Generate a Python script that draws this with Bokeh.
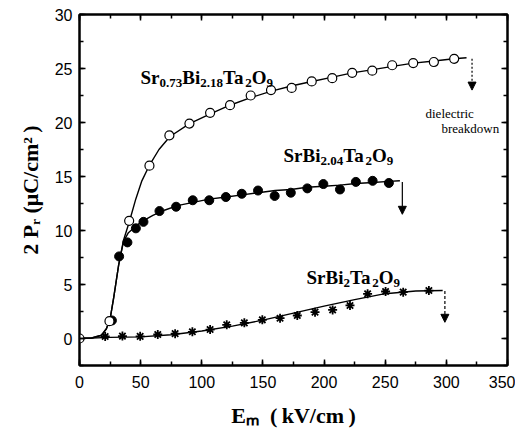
import math
from bokeh.plotting import figure
from bokeh.models import (Range1d, SingleIntervalTicker, LinearAxis, Label,
                          Arrow, NormalHead, CustomJSTickFormatter)
from bokeh.embed import file_html
from bokeh.resources import INLINE

# ---------------- data ----------------
# Sr0.73Bi2.18Ta2O9 : open circles
sr073_E = [0, 24.5, 40.6, 57.2, 73.5, 89.9, 106.8, 123.1, 140.0, 156.6, 173.5,
           189.9, 206.7, 223.0, 239.4, 255.7, 272.9, 289.8, 306.4]
sr073_P = [0, 1.6, 10.9, 16.0, 18.8, 19.9, 20.9, 21.6, 22.5, 23.0, 23.2,
           23.8, 24.1, 24.6, 24.8, 25.3, 25.5, 25.6, 25.9]
# fitted curve for Sr0.73Bi2.18Ta2O9
sr073_fit_E = [0, 10, 18, 22, 25, 28, 32, 36, 41, 46, 51, 57, 65, 74, 90, 107,
               123, 140, 157, 174, 190, 207, 223, 240, 256, 273, 290, 306, 316.5]
sr073_fit_P = [0, 0.05, 0.3, 0.9, 1.8, 3.8, 6.8, 9.1, 10.9, 12.9, 14.6, 16.0,
               17.5, 18.7, 19.9, 20.8, 21.6, 22.3, 22.9, 23.4, 23.8, 24.2, 24.6,
               24.9, 25.2, 25.5, 25.7, 25.9, 26.0]

# SrBi2.04Ta2O9 : filled circles
sr204_E = [26.5, 32.4, 39.2, 46.1, 52.3, 65.4, 79.0, 92.6, 106.1, 119.7, 132.7,
           146.0, 159.6, 172.8, 186.3, 199.4, 213.0, 226.0, 239.7, 253.0]
sr204_P = [1.67, 7.6, 8.9, 10.2, 10.8, 11.8, 12.2, 12.8, 12.8, 13.1, 13.4,
           13.7, 13.2, 13.5, 13.9, 14.3, 13.8, 14.5, 14.6, 14.4]
sr204_fit_E = [0, 10, 18, 22, 25, 28, 32, 36, 40, 46, 52, 60, 70, 80, 93, 106,
               120, 133, 146, 160, 173, 186, 200, 213, 226, 240, 253, 262]
sr204_fit_P = [0, 0.05, 0.3, 0.9, 1.8, 3.8, 6.8, 9.0, 9.8, 10.4, 10.9, 11.4,
               11.9, 12.3, 12.6, 12.9, 13.1, 13.3, 13.5, 13.7, 13.8, 14.0, 14.1,
               14.2, 14.35, 14.45, 14.55, 14.6]

# SrBi2Ta2O9 : asterisks
sr2_E = [21.0, 35.1, 49.6, 64.0, 78.2, 92.3, 106.8, 120.4, 134.8, 149.5, 164.0,
         178.1, 192.6, 207.0, 221.2, 235.6, 250.3, 264.7, 285.7]
sr2_P = [0.19, 0.22, 0.2, 0.37, 0.45, 0.62, 0.83, 1.27, 1.45, 1.73, 1.88,
         2.13, 2.44, 2.65, 3.06, 4.14, 4.35, 4.29, 4.44]
sr2_fit_E = [0, 25, 50, 75, 100, 125, 150, 175, 200, 225, 250, 275, 297]
sr2_fit_P = [0, 0.1, 0.15, 0.35, 0.7, 1.15, 1.7, 2.35, 3.0, 3.6, 4.15, 4.4, 4.45]

# dielectric breakdown arrows (E, start P, end P)
arrow_E = [321.0, 264.0, 298.8]
arrow_P_top = [25.9, 14.5, 4.4]
arrow_P_tip = [23.0, 11.5, 1.5]
arrow_dash = ["2 2", "solid", "3 2"]

x_ticks_interval = 50
y_ticks_interval = 5
X_RANGE = (0, 350)
Y_RANGE = (-2.5, 30)

# ---------------- figure ----------------
FW, FH = 428, 351
p = figure(frame_width=FW, frame_height=FH,
           x_range=Range1d(*X_RANGE), y_range=Range1d(*Y_RANGE),
           output_backend="svg", toolbar_location=None,
           min_border_left=79, min_border_right=8,
           min_border_top=14, min_border_bottom=62,
           background_fill_color="white", border_fill_color="white")
p.xgrid.visible = False
p.ygrid.visible = False
p.outline_line_color = "black"
p.outline_line_width = 2

def style_axis(ax, interval, show_labels):
    ax.ticker = SingleIntervalTicker(interval=interval, num_minor_ticks=2)
    ax.axis_line_color = "black"
    ax.axis_line_width = 2
    ax.major_tick_in = 6
    ax.major_tick_out = 0
    ax.minor_tick_in = 4
    ax.minor_tick_out = 0
    ax.major_tick_line_width = 1.5
    ax.minor_tick_line_width = 1.5
    ax.major_tick_line_color = "black"
    ax.minor_tick_line_color = "black"
    if show_labels:
        ax.major_label_text_font = "Liberation Sans"
        ax.major_label_text_font_size = "16px"
        ax.major_label_text_color = "black"
    else:
        ax.formatter = CustomJSTickFormatter(code="return ''")
        ax.major_label_text_color = None
        ax.major_label_standoff = 0

style_axis(p.xaxis[0], x_ticks_interval, True)
style_axis(p.yaxis[0], y_ticks_interval, True)
p.xaxis[0].major_label_standoff = 10
p.yaxis[0].major_label_standoff = 7

for ax, lab in [(p.xaxis[0], "E\u2098\u2002(\u2009kV/cm\u2009)"),
                (p.yaxis[0], "2 P\u1d63 (\u03bcC/cm\u00b2\u2009)")]:
    ax.axis_label = lab
    ax.axis_label_text_font = "Liberation Serif"
    ax.axis_label_text_font_style = "bold"
    ax.axis_label_text_font_size = "22px"
    ax.axis_label_text_color = "black"
p.xaxis[0].axis_label_standoff = 12
p.yaxis[0].axis_label_standoff = 9

top_ax = LinearAxis()
right_ax = LinearAxis()
style_axis(top_ax, x_ticks_interval, False)
style_axis(right_ax, y_ticks_interval, False)
p.add_layout(top_ax, "above")
p.add_layout(right_ax, "right")

# curves
p.line(sr073_fit_E, sr073_fit_P, line_color="black", line_width=1.4)
p.line(sr204_fit_E, sr204_fit_P, line_color="black", line_width=1.4)
p.line(sr2_fit_E, sr2_fit_P, line_color="black", line_width=1.4)

# markers
p.scatter(sr2_E, sr2_P, marker="asterisk", size=9, line_color="black", line_width=1.8)
p.scatter(sr204_E, sr204_P, marker="circle", size=9, fill_color="black", line_color="black")
p.scatter(sr073_E, sr073_P, marker="circle", size=9, fill_color="white",
          line_color="black", line_width=1.2)

# arrows
for e, a, b, d in zip(arrow_E, arrow_P_top, arrow_P_tip, arrow_dash):
    p.add_layout(Arrow(end=NormalHead(size=8, fill_color="black", line_color="black", line_width=1),
                       x_start=e, y_start=a, x_end=e, y_end=b,
                       line_color="black", line_width=1.2, line_dash=d))

# ---------------- text helpers ----------------
XS = FW / (X_RANGE[1] - X_RANGE[0])
YS = FH / (Y_RANGE[1] - Y_RANGE[0])
LEFT_PX, TOP_PX = 79, 14  # image position of frame corner

def img2data(px, py):
    return X_RANGE[0] + (px - LEFT_PX) / XS, Y_RANGE[1] - (py - TOP_PX) / YS

TB = {"S": 556, "r": 444, "B": 667, "i": 278, "T": 667, "a": 500, "O": 778,
      "/": 278, "(": 333, ")": 333, " ": 250, ".": 250}

def tw(txt, size):
    return sum(TB.get(c, 500) for c in txt) / 1000 * size

SERIF = "Liberation Serif"

def rich_label(pieces, px, py, main, small):
    cur = 0.0
    for txt, kind in pieces:
        size = main if kind == "n" else small
        shift = 0.30 * main if kind == "sub" else 0.0
        x, y = img2data(px + cur, py + shift)
        p.add_layout(Label(x=x, y=y, text=txt, text_font=SERIF,
                           text_font_size=f"{size}px", text_font_style="bold",
                           text_color="black", text_align="left",
                           text_baseline="alphabetic"))
        cur += tw(txt, size)

rich_label([("Sr", "n"), ("0.73", "sub"), ("Bi", "n"), ("2.18", "sub"),
            ("Ta", "n"), ("2", "sub"), ("O", "n"), ("9", "sub")], 140, 77, 19, 13)
rich_label([("SrBi", "n"), ("2.04", "sub"), ("Ta", "n"), ("2", "sub"),
            ("O", "n"), ("9", "sub")], 283, 155, 19, 13)
rich_label([("SrBi", "n"), ("2", "sub"), ("Ta", "n"), ("2", "sub"),
            ("O", "n"), ("9", "sub")], 306, 277, 19, 13)

for txt, px, py in [("dielectric", 425, 113), ("breakdown", 441, 128)]:
    x, y = img2data(px, py)
    p.add_layout(Label(x=x, y=y, text=txt, text_font=SERIF, text_font_size="13px",
                       text_color="black", text_align="left", text_baseline="alphabetic"))

open("out.html", "w").write(file_html(p, INLINE))
